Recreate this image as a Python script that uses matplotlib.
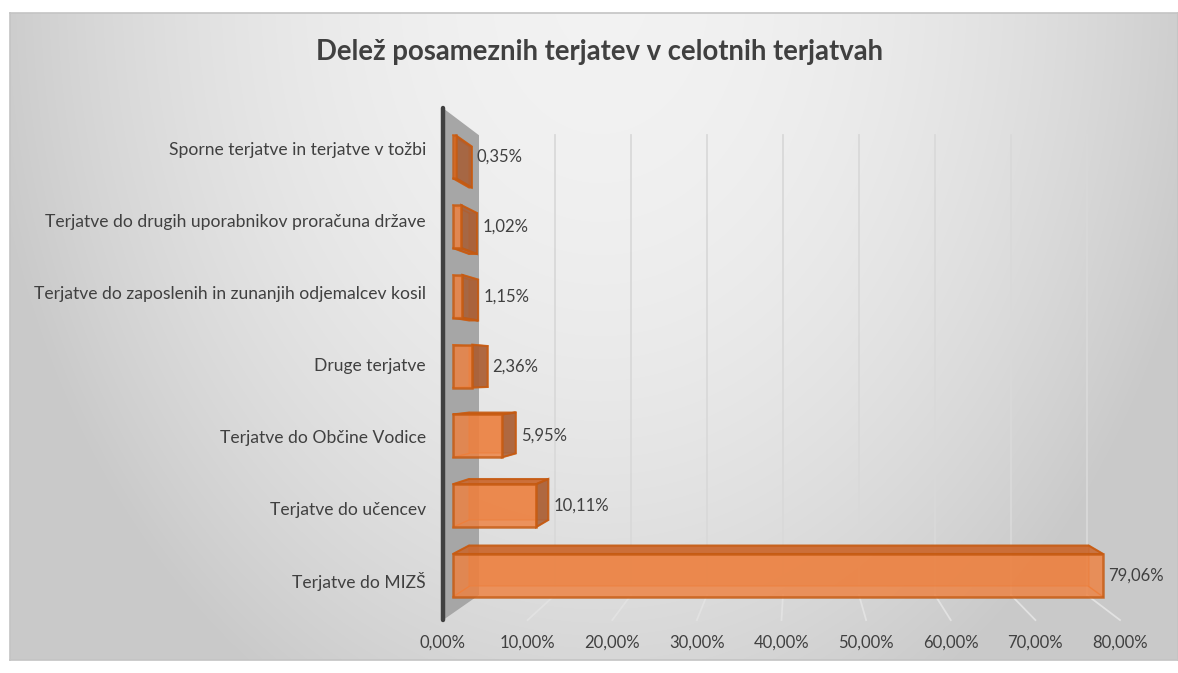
import numpy as np
import matplotlib
matplotlib.use("Agg")
from matplotlib import pyplot as plt
from matplotlib.patches import Polygon

plt.rcParams['font.family'] = ['Lato', 'DejaVu Sans']

# data (bottom to top)
categories = ["Terjatve do MIZŠ",
              "Terjatve do učencev",
              "Terjatve do Občine Vodice",
              "Druge terjatve",
              "Terjatve do zaposlenih in zunanjih odjemalcev kosil",
              "Terjatve do drugih uporabnikov proračuna države",
              "Sporne terjatve in terjatve v tožbi"]
shares = [79.06, 10.11, 5.95, 2.36, 1.15, 1.02, 0.35]
value_labels = ["79,06%", "10,11%", "5,95%", "2,36%", "1,15%", "1,02%", "0,35%"]
ticks = [0, 10, 20, 30, 40, 50, 60, 70, 80]
tick_labels = ["0,00%", "10,00%", "20,00%", "30,00%", "40,00%",
               "50,00%", "60,00%", "70,00%", "80,00%"]

# pseudo 3d: scale everything towards a vanishing point
vp = (41.7, 2.887)
S_FRONT, S_BAR_F, S_BAR_B, S_BACK = 1.0, 0.972, 0.926, 0.898
y_lo, y_hi = -0.54, 6.59
bar_h = 0.615


def proj(x, y, s):
    return (vp[0] + (x - vp[0]) * s, vp[1] + (y - vp[1]) * s)


fig = plt.figure(figsize=(11.78, 6.73), dpi=100)
fig.patch.set_facecolor('white')

# background with radial gradient
bg = fig.add_axes([10 / 1178, 13 / 673, 1168 / 1178, 647 / 673])
W, H = 1168, 647
xx, yy = np.meshgrid(np.arange(W) + 10, np.arange(H) + 13)
r2 = ((xx - 600) / 620.0) ** 2 + ((yy + 10) / 820.0) ** 2
val = 0.95 - 0.16 * np.clip(r2, 0, 1)
bg.imshow(np.dstack([val, val, val]), aspect='auto', extent=(0, 1, 0, 1))
bg.set_xlim(0, 1)
bg.set_ylim(0, 1)
bg.set_xticks([])
bg.set_yticks([])
for sp in bg.spines.values():
    sp.set_color('#c4c4c4')
    sp.set_linewidth(1.2)

ax = fig.add_axes([0, 0, 1, 1])
ax.patch.set_alpha(0)
ax.set_xlim((0 - 443) / 8.4625, (1178 - 443) / 8.4625)
ax.set_ylim((581.3 - 673) / 71.8, (581.3 - 0) / 71.8)
ax.axis('off')

# side wall
wall = [proj(0, y_lo, S_FRONT), proj(0, y_hi, S_FRONT),
        proj(0, y_hi, S_BACK), proj(0, y_lo, S_BACK)]
ax.add_patch(Polygon(wall, closed=True, facecolor='#a6a6a6', edgecolor='none', zorder=1))

# gridlines on back wall and floor
for t in ticks[1:]:
    p0 = proj(t, y_lo, S_BACK)
    p1 = proj(t, y_hi, S_BACK)
    p2 = proj(t, y_lo, S_FRONT)
    ax.plot([p0[0], p1[0]], [p0[1], p1[1]], color='#d9d9d9', lw=1.3, zorder=0.5)
    ax.plot([p0[0], p2[0]], [p0[1], p2[1]], color='#e2e2e2', lw=1.3, zorder=0.5)

# axis line
a0 = proj(0, y_lo, S_FRONT)
a1 = proj(0, y_hi, S_FRONT)
ax.plot([a0[0], a1[0]], [a0[1], a1[1]], color='#404040', lw=3.2,
        solid_capstyle='round', zorder=2)

edge = '#c55a11'
for i, v in enumerate(shares):
    lo, hi = i - bar_h / 2, i + bar_h / 2
    f = [proj(0, lo, S_BAR_F), proj(v, lo, S_BAR_F), proj(v, hi, S_BAR_F), proj(0, hi, S_BAR_F)]
    b = [proj(0, lo, S_BAR_B), proj(v, lo, S_BAR_B), proj(v, hi, S_BAR_B), proj(0, hi, S_BAR_B)]
    # back face and hidden edges (seen through front)
    ax.add_patch(Polygon(b, closed=True, facecolor='#e27a3a', alpha=0.5,
                         edgecolor='#e8772e', lw=1.2, zorder=3))
    for k in range(4):
        ax.plot([f[k][0], b[k][0]], [f[k][1], b[k][1]], color='#e8772e', lw=1.0, zorder=3)
    # visible top / bottom face
    if hi < vp[1]:
        ax.add_patch(Polygon([f[3], f[2], b[2], b[3]], closed=True, facecolor='#c9652b',
                             alpha=0.85, edgecolor=edge, lw=1.5, zorder=4))
    if lo > vp[1]:
        ax.add_patch(Polygon([f[0], f[1], b[1], b[0]], closed=True, facecolor='#b85e2c',
                             alpha=0.85, edgecolor=edge, lw=1.5, zorder=4))
    # visible right face
    if v < vp[0]:
        ax.add_patch(Polygon([f[1], f[2], b[2], b[1]], closed=True, facecolor='#a65c33',
                             alpha=0.85, edgecolor=edge, lw=1.5, zorder=4))
    # front face
    ax.add_patch(Polygon(f, closed=True, facecolor='#ee8140', alpha=0.82,
                         edgecolor=edge, lw=1.8, zorder=6))
    # value label
    xr = max(f[1][0], b[1][0]) + 0.6
    yc = proj(v, i, S_BAR_F)[1]
    ax.text(xr, yc, value_labels[i], ha='left', va='center', fontsize=12,
            color='#404040', zorder=7)

# category labels
for i, c in enumerate(categories):
    ax.text(-2.0, i, c, ha='right', va='center', fontsize=12.6, color='#404040')

# x tick labels
for t, lab in zip(ticks, tick_labels):
    ax.text(t, -0.86, lab, ha='center', va='center', fontsize=12, color='#404040')

fig.text(0.509, 1 - 52 / 673, "Delež posameznih terjatev v celotnih terjatvah",
         ha='center', va='center', fontsize=19.8, fontweight='bold', color='#404040')

fig.savefig('out.png', dpi=100)
